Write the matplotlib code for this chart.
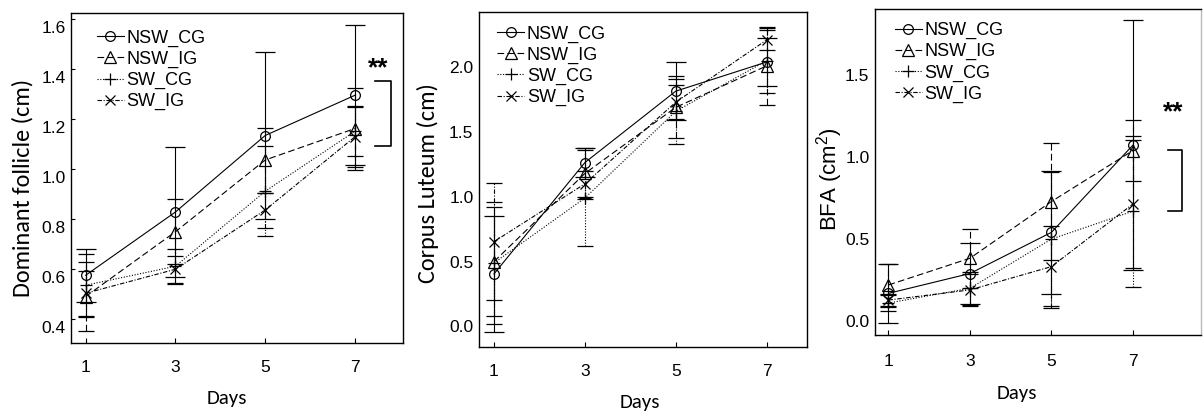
import matplotlib
matplotlib.use("Agg")
import matplotlib.pyplot as plt
from matplotlib.lines import Line2D
from matplotlib.transforms import ScaledTranslation

# ---------------- data ----------------
days = [1, 3, 5, 7]
series = ["NSW_CG", "NSW_IG", "SW_CG", "SW_IG"]

# Dominant follicle (cm)
df_nsw_cg = [0.574, 0.827, 1.133, 1.294]
df_nsw_cg_err = [0.105, 0.26, 0.334, 0.28]
df_nsw_ig = [0.489, 0.748, 1.035, 1.161]
df_nsw_ig_err = [0.138, 0.13, 0.13, 0.164]
df_sw_cg = [0.534, 0.61, 0.91, 1.15]
df_sw_cg_err = [0.126, 0.07, 0.18, 0.10]
df_sw_ig = [0.502, 0.598, 0.835, 1.128]
df_sw_ig_err = [0.09, 0.055, 0.07, 0.12]

# Corpus luteum (cm)
cl_nsw_cg = [0.405, 1.264, 1.815, 2.04]
cl_nsw_cg_err = [0.45, 0.115, 0.225, 0.185]
cl_nsw_ig = [0.50, 1.18, 1.69, 2.01]
cl_nsw_ig_err = [0.42, 0.20, 0.24, 0.30]
cl_sw_cg = [0.49, 0.99, 1.66, 2.05]
cl_sw_cg_err = [0.47, 0.37, 0.25, 0.25]
cl_sw_ig = [0.654, 1.10, 1.73, 2.21]
cl_sw_ig_err = [0.45, 0.10, 0.13, 0.075]

# BFA (cm2)
bfa_nsw_cg = [0.169, 0.29, 0.541, 1.073]
bfa_nsw_cg_err = [0.18, 0.185, 0.375, 0.76]
bfa_nsw_ig = [0.22, 0.383, 0.729, 1.04]
bfa_nsw_ig_err = [0.13, 0.18, 0.355, 0.185]
bfa_sw_cg = [0.11, 0.20, 0.50, 0.67]
bfa_sw_cg_err = [0.05, 0.10, 0.41, 0.46]
bfa_sw_ig = [0.128, 0.19, 0.332, 0.714]
bfa_sw_ig_err = [0.04, 0.10, 0.25, 0.39]

df_ticks = [0.4, 0.6, 0.8, 1.0, 1.2, 1.4, 1.6]
cl_ticks = [0.0, 0.5, 1.0, 1.5, 2.0]
bfa_ticks = [0.0, 0.5, 1.0, 1.5]

# ---------------- style ----------------
ARIAL = "Liberation Sans"
CALIB = "Carlito"
plt.rcParams["font.family"] = [ARIAL, "DejaVu Sans"]
plt.rcParams["mathtext.fontset"] = "custom"
plt.rcParams["mathtext.rm"] = ARIAL

styles = {
    "NSW_CG": dict(ls="-", marker="o", ms=7, cap=7),
    "NSW_IG": dict(ls=(0, (6, 3)), marker="^", ms=9, cap=6),
    "SW_CG": dict(ls=(0, (1, 1.5)), marker="+", ms=8, cap=6),
    "SW_IG": dict(ls=(0, (4, 1.5, 1, 1.5)), marker="x", ms=7, cap=6),
}

W, H = 1203, 416
fig = plt.figure(figsize=(W / 100, H / 100), dpi=100)


def axes_px(l, t, r, b):
    return fig.add_axes([l / W, 1 - b / H, (r - l) / W, (b - t) / H])


def draw(ax, data, xlim, ylim, yticks, ytick_len, xpad):
    for name, (vals, errs) in zip(series, data):
        st = styles[name]
        cont = ax.errorbar(days, vals, yerr=errs, color="black", lw=0.8,
                           ls=st["ls"], marker=st["marker"], ms=st["ms"],
                           mfc="none", mec="black", mew=0.9,
                           capsize=st["cap"], capthick=0.8, elinewidth=0.8)
        for bc in cont[2]:
            bc.set_linestyle(st["ls"])
    ax.set_xlim(*xlim)
    ax.set_ylim(*ylim)
    ax.set_xticks(days)
    ax.set_yticks(yticks)
    ax.set_yticklabels([f"{v:.1f}" for v in yticks])
    ax.tick_params(axis="x", direction="in", length=3.5, width=0.8,
                   pad=xpad, labelsize=12.5)
    ax.tick_params(axis="y", direction="in", length=ytick_len, width=0.8,
                   pad=4, labelsize=12.5)
    for sp in ax.spines.values():
        sp.set_linewidth(1.0)
    handles = [Line2D([], [], color="black", lw=0.8, ls=styles[n]["ls"],
                      marker=styles[n]["marker"], ms=styles[n]["ms"],
                      mfc="none", mec="black", mew=0.9) for n in series]
    return handles


def legend(ax, handles, x, y):
    ax.legend(handles, series, loc="upper left", bbox_to_anchor=(x, y),
              frameon=False, handlelength=1.5, handletextpad=0.15,
              labelspacing=0.22, borderpad=0, borderaxespad=0,
              prop=dict(family=ARIAL, size=13))


def bracket(ax, x0, x1, y0, y1, sx, sy):
    ax.plot([x0, x1, x1, x0], [y1, y1, y0, y0], color="black", lw=1.2,
            clip_on=False)
    ax.text(sx, sy, "**", ha="center", va="center", fontsize=19,
            fontweight="bold", fontfamily=ARIAL)


# Panel 1
ax1 = axes_px(71, 13, 403, 343)
h = draw(ax1, [(df_nsw_cg, df_nsw_cg_err), (df_nsw_ig, df_nsw_ig_err),
               (df_sw_cg, df_sw_cg_err), (df_sw_ig, df_sw_ig_err)],
         (0.673, 8.07), (0.303, 1.623), df_ticks, 3, 12)
legend(ax1, h, 0.078, 0.95)
bracket(ax1, 7.44, 7.80, 1.092, 1.351, 7.51, 1.40)
off = ScaledTranslation(0, -8 / 100, fig.dpi_scale_trans)
for lab in ax1.get_yticklabels():
    lab.set_transform(lab.get_transform() + off)
ax1.text(-0.145, 0.47, "Dominant follicle (cm)", rotation=90, ha="center",
         va="center", transform=ax1.transAxes, fontsize=17.5, fontfamily=CALIB)
ax1.text(0.47, -0.167, "Days", ha="center", va="center",
         transform=ax1.transAxes, fontsize=15, fontfamily=CALIB)

# Panel 2
ax2 = axes_px(479, 12, 807, 347)
h = draw(ax2, [(cl_nsw_cg, cl_nsw_cg_err), (cl_nsw_ig, cl_nsw_ig_err),
               (cl_sw_cg, cl_sw_cg_err), (cl_sw_ig, cl_sw_ig_err)],
         (0.67, 7.89), (-0.159, 2.426), cl_ticks, 0, 12)
legend(ax2, h, 0.055, 0.96)
ax2.text(-0.155, 0.49, "Corpus Luteum (cm)", rotation=90, ha="center",
         va="center", transform=ax2.transAxes, fontsize=17.5, fontfamily=CALIB)
ax2.text(0.49, -0.167, "Days", ha="center", va="center",
         transform=ax2.transAxes, fontsize=15, fontfamily=CALIB)

# Panel 3
ax3 = axes_px(875, 9, 1201, 335)
h = draw(ax3, [(bfa_nsw_cg, bfa_nsw_cg_err), (bfa_nsw_ig, bfa_nsw_ig_err),
               (bfa_sw_cg, bfa_sw_cg_err), (bfa_sw_ig, bfa_sw_ig_err)],
         (0.67, 8.67), (-0.085, 1.903), bfa_ticks, 0, 14)
ax3.spines["right"].set_color("#bbbbbb")
legend(ax3, h, 0.061, 0.96)
bracket(ax3, 7.85, 8.21, 0.672, 1.044, 7.99, 1.27)
ax3.text(-0.138, 0.479, "BFA (cm$^2$)", rotation=90, ha="center",
         va="center", transform=ax3.transAxes, fontsize=16, fontfamily=ARIAL)
ax3.text(0.436, -0.178, "Days", ha="center", va="center",
         transform=ax3.transAxes, fontsize=15, fontfamily=CALIB)

fig.savefig("out.png", dpi=100)
